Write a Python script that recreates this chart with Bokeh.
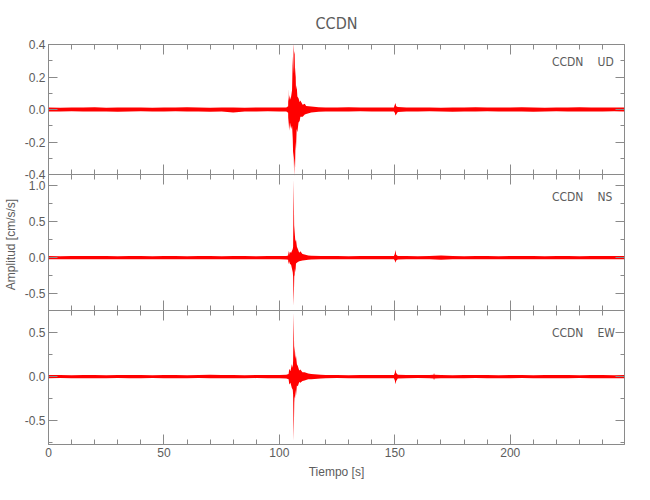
import math
from bokeh.plotting import figure
from bokeh.models import Range1d, LinearAxis, SingleIntervalTicker, FixedTicker, CustomJSTickFormatter
from bokeh.core.properties import value
from bokeh.embed import file_html
from bokeh.resources import INLINE

# ---------------- data ----------------
TITLE = "CCDN"
STATION = "CCDN"
X_LABEL = "Tiempo [s]"
Y_LABEL = "Amplitud [cm/s/s]"
X_MIN, X_MAX = 0.0, 249.5
X_TICK_STEP = 50

COMPONENTS = ["UD", "NS", "EW"]
Y_LIMITS = [(-0.4, 0.4), (-0.73, 1.15), (-0.775, 0.755)]
Y_TICK_STEP = [0.2, 0.5, 0.5]
LABEL_Y = [0.29, 0.84, 0.50]

# envelope of each trace: (time [s], upper amplitude, lower amplitude) [cm/s/s]
UD_ENV = [
    (0, .012, -.012), (5, .011, -.013), (10, .013, -.011), (15, .012, -.012), (20, .014, -.013),
    (25, .011, -.012), (30, .012, -.014), (35, .013, -.012), (40, .012, -.011), (45, .011, -.013),
    (50, .013, -.012), (55, .012, -.011), (60, .014, -.013), (65, .012, -.012), (70, .011, -.014),
    (75, .013, -.012), (80, .012, -.018), (85, .011, -.012), (90, .013, -.013), (95, .012, -.011),
    (100, .012, -.012),
    (103.0, .013, -.013), (103.8, .02, -.02), (103.9, .13, -.12), (104.0, .05, -.05), (104.3, .09, -.13),
    (104.6, .06, -.08), (105.1, .08, -.12), (105.5, .12, -.10), (105.8, .33, -.18), (106.0, .22, -.30),
    (106.2, .41, -.26), (106.4, .34, -.41), (106.6, .36, -.30), (106.8, .20, -.36), (107.0, .26, -.20),
    (107.2, .12, -.25), (107.5, .15, -.12), (107.8, .08, -.14), (108.3, .07, -.08), (108.8, .045, -.07),
    (109.1, .055, -.045), (110.1, .03, -.045), (111.0, .035, -.03), (111.6, .022, -.028), (113.8, .018, -.018),
    (117, .014, -.014),
    (120, .013, -.013), (125, .012, -.012), (130, .014, -.013), (135, .012, -.011), (140, .013, -.012),
    (145, .012, -.013),
    (149.6, .013, -.013), (150.0, .03, -.02), (150.3, .04, -.037), (150.6, .02, -.03), (151.3, .015, -.015),
    (155, .012, -.012), (160, .013, -.013), (165, .012, -.011), (170, .011, -.012), (175, .013, -.014),
    (180, .012, -.012), (185, .014, -.013), (190, .012, -.011), (195, .013, -.012), (200, .012, -.013),
    (205, .014, -.012), (210, .012, -.014), (215, .011, -.012), (220, .013, -.011), (225, .012, -.013),
    (230, .014, -.012), (235, .012, -.013), (240, .013, -.012), (245, .012, -.011), (249.5, .012, -.012),
]

NS_ENV = [
    (0, .022, -.022), (5, .021, -.023), (10, .023, -.021), (15, .022, -.023), (20, .023, -.022),
    (25, .022, -.021), (30, .021, -.023), (35, .023, -.022), (40, .022, -.023), (45, .021, -.022),
    (50, .023, -.022), (55, .022, -.023), (60, .021, -.022), (65, .023, -.022), (70, .022, -.023),
    (75, .021, -.021), (80, .023, -.022), (85, .022, -.023), (90, .021, -.022), (95, .023, -.022),
    (100, .022, -.023),
    (103.0, .024, -.024), (103.8, .03, -.03), (103.9, .10, -.09), (104.2, .04, -.05), (104.5, .08, -.08),
    (105.1, .07, -.10), (105.8, .12, -.20), (105.95, .15, -.26), (106.2, 1.08, -.66), (106.45, .30, -.26),
    (106.6, .45, -.24), (106.75, .30, -.15), (106.95, .22, -.20), (107.2, .25, -.08), (107.6, .15, -.07),
    (108.0, .12, -.06), (108.6, .07, -.05), (109.1, .09, -.045), (110.0, .05, -.04), (110.9, .045, -.035),
    (112.5, .03, -.03), (113.8, .028, -.025), (118, .024, -.023),
    (120, .022, -.022), (125, .023, -.021), (130, .021, -.023), (135, .022, -.022), (140, .023, -.023),
    (145, .022, -.021),
    (149.6, .023, -.023), (150.0, .05, -.04), (150.3, .106, -.07), (150.6, .04, -.04), (151.3, .025, -.025),
    (155, .022, -.022), (160, .021, -.023), (165, .023, -.021), (170, .032, -.03), (175, .022, -.022),
    (180, .021, -.023), (185, .023, -.022), (190, .022, -.021), (195, .021, -.023), (200, .023, -.022),
    (205, .022, -.022), (210, .023, -.023), (215, .021, -.022), (220, .022, -.021), (225, .023, -.023),
    (230, .021, -.022), (235, .022, -.021), (240, .023, -.023), (245, .022, -.022), (249.5, .022, -.022),
]

EW_ENV = [
    (0, .018, -.018), (5, .019, -.017), (10, .017, -.019), (15, .018, -.018), (20, .019, -.019),
    (25, .017, -.018), (30, .018, -.017), (35, .019, -.019), (40, .018, -.018), (45, .017, -.017),
    (50, .018, -.019), (55, .019, -.018), (60, .017, -.018), (65, .018, -.017), (70, .020, -.019),
    (75, .018, -.018), (80, .019, -.018), (85, .017, -.019), (90, .018, -.017), (95, .019, -.018),
    (100, .018, -.019),
    (103.0, .02, -.02), (104.0, .03, -.03), (104.3, .09, -.09), (104.8, .06, -.07), (105.4, .14, -.13),
    (105.8, .10, -.15), (105.95, .18, -.20), (106.2, .73, -.73), (106.45, .22, -.30), (106.6, .35, -.22),
    (106.8, .28, -.25), (107.0, .20, -.15), (107.2, .24, -.22), (107.6, .14, -.10), (108.0, .12, -.11),
    (108.6, .07, -.06), (109.1, .08, -.07), (110.0, .05, -.05), (110.9, .05, -.045), (112.5, .035, -.03),
    (113.8, .03, -.03), (118, .02, -.02),
    (120, .018, -.018), (125, .019, -.017), (130, .017, -.019), (135, .018, -.018), (140, .019, -.018),
    (145, .018, -.019),
    (149.6, .019, -.019), (150.0, .04, -.04), (150.3, .084, -.087), (150.6, .04, -.05), (151.3, .022, -.022),
    (155, .018, -.018), (160, .019, -.017), (165, .018, -.018), (166.8, .02, -.02), (167.0, .042, -.042),
    (167.2, .02, -.02), (170, .018, -.019), (175, .017, -.018), (180, .018, -.018), (185, .019, -.017),
    (190, .018, -.019), (195, .017, -.018), (200, .019, -.018), (205, .018, -.017), (210, .017, -.019),
    (215, .018, -.018), (220, .019, -.018), (225, .018, -.019), (230, .017, -.017), (235, .019, -.018),
    (240, .018, -.019), (245, .017, -.018), (249.5, .018, -.018),
]

TRACES = [UD_ENV, NS_ENV, EW_ENV]

# ---------------- layout / style ----------------
PANEL_H = [130, 136, 134]          # top to bottom, px
TOTAL_H = sum(PANEL_H)
B_LEFT, B_RIGHT, B_TOP, B_BOTTOM = 48, 26, 44, 48
FRAME_W = 576
FONT = "Liberation Sans"
FONT_N = "Liberation Sans Narrow, DejaVu Sans Condensed, Liberation Sans"
TXT = "#5c5c5c"
AXC = "#8a8a8a"
RED = "#ff0000"
STA_X, COMP_X = 231.7, 237.8
BLANK = CustomJSTickFormatter(code="return ''")

p = figure(width=B_LEFT + FRAME_W + B_RIGHT, height=B_TOP + TOTAL_H + B_BOTTOM,
           x_range=Range1d(X_MIN, X_MAX), y_range=Range1d(0, TOTAL_H),
           x_axis_type=None, y_axis_type=None,
           output_backend="svg", toolbar_location=None,
           min_border_left=B_LEFT, min_border_right=B_RIGHT,
           min_border_top=B_TOP, min_border_bottom=B_BOTTOM,
           outline_line_color=AXC, background_fill_color="white", border_fill_color="white")

p.title.text = TITLE
p.title.align = "center"
p.title.text_font = FONT_N
p.title.text_font_size = "16px"
p.title.text_font_style = "normal"
p.title.text_color = TXT
p.title.standoff = 23


def style_axis(ax, labels=True, major=9, minor=4):
    ax.axis_line_color = AXC
    ax.major_tick_line_color = AXC
    ax.minor_tick_line_color = AXC
    ax.major_tick_in = major
    ax.major_tick_out = 0
    ax.minor_tick_in = minor
    ax.minor_tick_out = 0
    ax.major_label_text_font = FONT
    ax.major_label_text_font_size = "12px"
    ax.major_label_text_color = TXT
    ax.major_label_standoff = 4 if labels else 0
    if not labels:
        ax.formatter = BLANK
    ax.axis_label_text_font = FONT
    ax.axis_label_text_font_size = "12px"
    ax.axis_label_text_font_style = "normal"
    ax.axis_label_text_color = TXT


def x_ticker():
    return SingleIntervalTicker(interval=X_TICK_STEP, num_minor_ticks=5)


# bottom and top x axes
xb = LinearAxis(ticker=x_ticker(), axis_label=X_LABEL)
style_axis(xb, labels=True, major=10, minor=5)
xb.major_label_standoff = 3
xb.axis_label_standoff = 5
p.add_layout(xb, "below")
xt = LinearAxis(ticker=x_ticker())
style_axis(xt, labels=False, major=10, minor=5)
p.add_layout(xt, "above")

# panel positions inside the frame (px from frame bottom)
tops, bottoms = [], []
acc = TOTAL_H
for h in PANEL_H:
    tops.append(acc)
    bottoms.append(acc - h)
    acc -= h

panel_info = []
label_ticks = []
for i, (comp, (ylo, yhi), step, ly, env) in enumerate(zip(COMPONENTS, Y_LIMITS, Y_TICK_STEP, LABEL_Y, TRACES)):
    name = comp.lower()
    per = (yhi - ylo) / PANEL_H[i]
    p.extra_y_ranges[name] = Range1d(ylo - bottoms[i] * per, yhi + (TOTAL_H - tops[i]) * per)
    panel_info.append([bottoms[i], tops[i], ylo, per])
    for k in range(math.ceil(ylo / step - 1e-9), math.floor(yhi / step + 1e-9) + 1):
        label_ticks.append(bottoms[i] + (k * step - ylo) / per)

    t = [e[0] for e in env]
    hi = [e[1] for e in env]
    lo = [e[2] for e in env]
    p.varea(x=t, y1=lo, y2=hi, y_range_name=name, fill_color=RED, fill_alpha=1.0)

    eps = 1e-9
    yl = LinearAxis(y_range_name=name, fixed_location=X_MIN, bounds=(ylo - eps, yhi + eps),
                    ticker=SingleIntervalTicker(interval=step, num_minor_ticks=2))
    style_axis(yl, labels=False, major=9, minor=4)
    p.add_layout(yl, "left")
    yr = LinearAxis(y_range_name=name, fixed_location=X_MAX, bounds=(ylo - eps, yhi + eps),
                    ticker=SingleIntervalTicker(interval=step, num_minor_ticks=2))
    style_axis(yr, labels=False, major=9, minor=4)
    p.add_layout(yr, "right")

    p.text(x=[STA_X], y=[ly], text=[STATION], y_range_name=name, text_align="right",
           text_baseline="middle", text_font=value(FONT_N), text_font_size="12px", text_color=TXT)
    p.text(x=[COMP_X], y=[ly], text=[comp], y_range_name=name, text_align="left",
           text_baseline="middle", text_font=value(FONT_N), text_font_size="12px", text_color=TXT)

# inner panel boundaries with ticks on both sides
for b in bottoms[:-1]:
    a1 = LinearAxis(ticker=x_ticker(), fixed_location=b)
    style_axis(a1, labels=False, major=10, minor=5)
    p.add_layout(a1, "below")
    a2 = LinearAxis(ticker=x_ticker(), fixed_location=b)
    style_axis(a2, labels=False, major=10, minor=5)
    p.add_layout(a2, "above")

# tick labels of the three panels + common y label (normal left axis, no rule / ticks)
fmt = CustomJSTickFormatter(args=dict(panels=panel_info), code="""
for (const pi of panels) {
  const b = pi[0], t = pi[1], lo = pi[2], per = pi[3];
  if (tick >= b - 1e-6 && tick <= t + 1e-6) {
    let v = lo + (tick - b) * per;
    if (Math.abs(v) < 1e-9) { v = 0; }
    return v.toFixed(1);
  }
}
return "";
""")
lab = LinearAxis(ticker=FixedTicker(ticks=label_ticks, minor_ticks=[]), formatter=fmt, axis_label=Y_LABEL)
style_axis(lab, labels=True)
lab.formatter = fmt
lab.axis_line_color = None
lab.major_tick_line_color = None
lab.minor_tick_line_color = None
lab.major_tick_in = 0
lab.minor_tick_in = 0
lab.major_label_standoff = 3
lab.axis_label_standoff = 4
p.add_layout(lab, "left")

open("out.html", "w").write(file_html(p, INLINE))
